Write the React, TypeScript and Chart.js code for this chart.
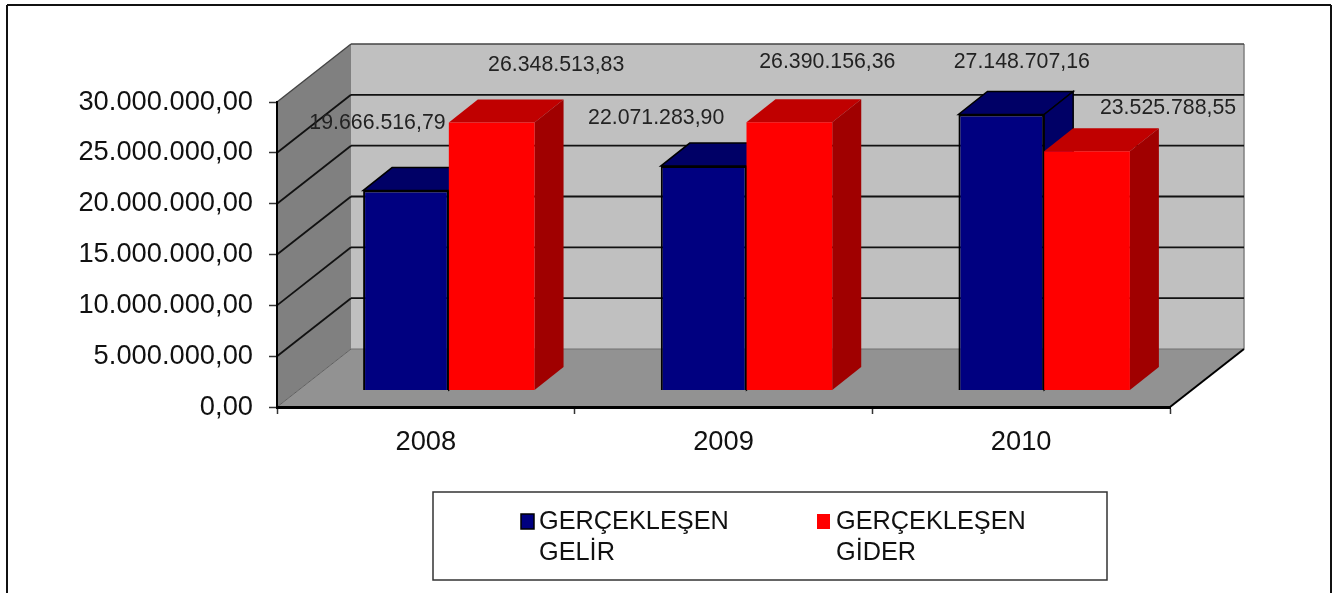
import React, { useEffect, useRef } from "react";
import { Chart, registerables } from "chart.js";

Chart.register(...registerables);

const categories = ["2008", "2009", "2010"];
const gelirValues = [19666516.79, 22071283.9, 27148707.16];
const giderValues = [26348513.83, 26390156.36, 23525788.55];
const gelirLabel = ["GERÇEKLEŞEN", "GELİR"];
const giderLabel = ["GERÇEKLEŞEN", "GİDER"];

const FONT = '"Liberation Sans", Arial, sans-serif';

const WALL_DX = 74;
const WALL_DY = -58;
const BAR_DX = 29;
const BAR_DY = -23;
const BAR_SHIFT_X = 23;
const BAR_SHIFT_Y = -16.5;

const gelirLabelOffsets = [[-28.5, -67], [-47.5, -48], [20.5, -52]];
const giderLabelOffsets = [[64.5, -58], [38, -60], [81, -43.5]];

const styles = [
  { front: "#000080", top: "#000066", side: "#000066", edge: "#000000", offsets: gelirLabelOffsets },
  { front: "#ff0000", top: "#c00000", side: "#a00000", edge: null, offsets: giderLabelOffsets },
];

function formatNumber(v: number): string {
  const [intPart, dec] = v.toFixed(2).split(".");
  return intPart.replace(/\B(?=(\d{3})+(?!\d))/g, ".") + "," + dec;
}

function poly(ctx: CanvasRenderingContext2D, pts: number[][], fill: string | null, stroke?: string | null, lw = 1) {
  ctx.beginPath();
  pts.forEach((p, i) => (i ? ctx.lineTo(p[0], p[1]) : ctx.moveTo(p[0], p[1])));
  ctx.closePath();
  if (fill) {
    ctx.fillStyle = fill;
    ctx.fill();
  }
  if (stroke) {
    ctx.strokeStyle = stroke;
    ctx.lineWidth = lw;
    ctx.stroke();
  }
}

function seg(ctx: CanvasRenderingContext2D, x1: number, y1: number, x2: number, y2: number, color: string, lw: number) {
  ctx.beginPath();
  ctx.moveTo(x1, y1);
  ctx.lineTo(x2, y2);
  ctx.strokeStyle = color;
  ctx.lineWidth = lw;
  ctx.stroke();
}

function drawDepth(ctx: CanvasRenderingContext2D, meta: any, st: any) {
  meta.data.forEach((bar: any) => {
    const p = bar.getProps(["x", "y", "base", "width"], true);
    const l = p.x - p.width / 2;
    const r = p.x + p.width / 2;
    poly(ctx, [[l, p.y], [r, p.y], [r + BAR_DX, p.y + BAR_DY], [l + BAR_DX, p.y + BAR_DY]], st.top, st.edge, 1.5);
    poly(ctx, [[r, p.y], [r + BAR_DX, p.y + BAR_DY], [r + BAR_DX, p.base + BAR_DY], [r, p.base]], st.side, st.edge, 1.5);
  });
}

const scenePlugin = {
  id: "scene3d",
  beforeDraw(chart: any) {
    const { ctx, chartArea: a, scales } = chart;
    const y = scales.y;
    ctx.save();
    seg(ctx, 7, 5, 1331, 5, "#111", 2);
    seg(ctx, 7, 5, 7, 593, "#111", 2);
    seg(ctx, 1331, 5, 1331, 593, "#111", 2);

    const bl = a.left + WALL_DX;
    const br = a.right + WALL_DX;
    poly(ctx, [[bl, a.top + WALL_DY], [br, a.top + WALL_DY], [br, a.bottom + WALL_DY], [bl, a.bottom + WALL_DY]], "#c0c0c0");
    poly(ctx, [[a.left, a.top], [bl, a.top + WALL_DY], [bl, a.bottom + WALL_DY], [a.left, a.bottom]], "#808080");
    seg(ctx, br, a.top + WALL_DY, br, a.bottom + WALL_DY, "#808080", 1.5);

    y.ticks.forEach((t: any) => {
      if (t.value === 0) return;
      const p = y.getPixelForValue(t.value);
      const top = t.value === y.max;
      seg(ctx, bl, p + WALL_DY, br, p + WALL_DY, top ? "#444" : "#111", top ? 1.4 : 1.8);
      seg(ctx, a.left, p, bl, p + WALL_DY, top ? "#444" : "#111", top ? 1.4 : 1.8);
    });

    poly(ctx, [[a.left, a.bottom], [a.right, a.bottom], [br, a.bottom + WALL_DY], [bl, a.bottom + WALL_DY]], "#929292");
    seg(ctx, bl, a.bottom + WALL_DY, br, a.bottom + WALL_DY, "#707070", 1);
    seg(ctx, a.left, a.bottom, bl, a.bottom + WALL_DY, "#606060", 1);
    seg(ctx, a.right, a.bottom, br, a.bottom + WALL_DY, "#000", 2);
    ctx.restore();
  },
  beforeDatasetsDraw(chart: any) {
    // The first series is painted last by the library, but its depth faces lie behind the second series.
    const { ctx } = chart;
    ctx.save();
    ctx.translate(BAR_SHIFT_X, BAR_SHIFT_Y);
    drawDepth(ctx, chart.getDatasetMeta(0), styles[0]);
    ctx.restore();
  },
  beforeDatasetDraw(chart: any, args: any) {
    const { ctx } = chart;
    ctx.save();
    ctx.translate(BAR_SHIFT_X, BAR_SHIFT_Y);
    if (args.index === 1) drawDepth(ctx, args.meta, styles[1]);
  },
  afterDatasetDraw(chart: any) {
    chart.ctx.restore();
  },
  afterDatasetsDraw(chart: any) {
    const { ctx } = chart;
    ctx.save();
    ctx.font = `21.3px ${FONT}`;
    ctx.fillStyle = "#222";
    ctx.textAlign = "center";
    ctx.textBaseline = "middle";
    chart.data.datasets.forEach((ds: any, i: number) => {
      chart.getDatasetMeta(i).data.forEach((bar: any, j: number) => {
        const p = bar.getProps(["x", "y"], true);
        const off = styles[i].offsets[j];
        ctx.fillText(formatNumber(ds.data[j]), p.x + BAR_SHIFT_X + off[0], p.y + BAR_SHIFT_Y + off[1]);
      });
    });
    ctx.restore();
  },
  afterDraw(chart: any) {
    const { ctx } = chart;
    ctx.save();
    ctx.fillStyle = "#fff";
    ctx.strokeStyle = "#333";
    ctx.lineWidth = 1.5;
    ctx.fillRect(433, 492, 674, 88);
    ctx.strokeRect(433, 492, 674, 88);
    const entries = [
      { swatchX: 521, textX: 539 },
      { swatchX: 817, textX: 836 },
    ];
    chart.data.datasets.forEach((ds: any, i: number) => {
      const e = entries[i];
      ctx.fillStyle = ds.backgroundColor;
      ctx.fillRect(e.swatchX, 514, 13, 15);
      if (styles[i].edge) {
        ctx.strokeStyle = "#000";
        ctx.lineWidth = 1.5;
        ctx.strokeRect(e.swatchX, 514, 13, 15);
      }
      ctx.fillStyle = "#111";
      ctx.font = `25.3px ${FONT}`;
      ctx.textAlign = "left";
      ctx.textBaseline = "alphabetic";
      ds.label.forEach((line: string, k: number) => ctx.fillText(line, e.textX, 529 + k * 31));
    });
    ctx.restore();
  },
};

export default function App() {
  const ref = useRef<HTMLCanvasElement>(null);
  useEffect(() => {
    if (!ref.current) return;
    const chart = new Chart(ref.current, {
      type: "bar",
      plugins: [scenePlugin],
      data: {
        labels: categories,
        datasets: [
          {
            label: gelirLabel as any,
            data: gelirValues,
            backgroundColor: "#000080",
            borderColor: "#000000",
            borderWidth: 2,
            clip: false as any,
          },
          {
            label: giderLabel as any,
            data: giderValues,
            backgroundColor: "#ff0000",
            borderColor: "#ff0000",
            borderWidth: 0,
            clip: false as any,
          },
        ],
      },
      options: {
        responsive: false,
        animation: false,
        categoryPercentage: 0.576,
        barPercentage: 1,
        layout: { padding: { left: 0, top: 102, right: 174, bottom: 116 } },
        plugins: { legend: { display: false }, tooltip: { enabled: false } },
        scales: {
          x: {
            offset: true,
            afterFit: (s: any) => {
              s.height = 70;
            },
            grid: {
              offset: true,
              drawOnChartArea: false,
              drawTicks: true,
              tickLength: 7,
              tickColor: "#333",
              tickWidth: 1.5,
            },
            border: { display: true, color: "#000", width: 3 },
            ticks: { color: "#111", font: { family: FONT, size: 27.3 }, padding: 12, maxRotation: 0 },
          },
          y: {
            min: 0,
            max: 30000000,
            afterFit: (s: any) => {
              s.width = 277;
            },
            grid: {
              drawOnChartArea: false,
              drawTicks: true,
              tickLength: 8,
              tickColor: "#333",
              tickWidth: 1.5,
            },
            border: { display: true, color: "#000", width: 2 },
            ticks: {
              stepSize: 5000000,
              color: "#111",
              font: { family: FONT, size: 27.3 },
              padding: 16,
              callback: (v: any) => formatNumber(Number(v)),
            },
          },
        },
      },
    } as any);
    return () => chart.destroy();
  }, []);
  return (
    <div style={{ position: "fixed", left: 0, top: 0, width: 1344, height: 593, background: "#fff" }}>
      <canvas ref={ref} width={1344} height={593} style={{ display: "block" }} />
    </div>
  );
}
